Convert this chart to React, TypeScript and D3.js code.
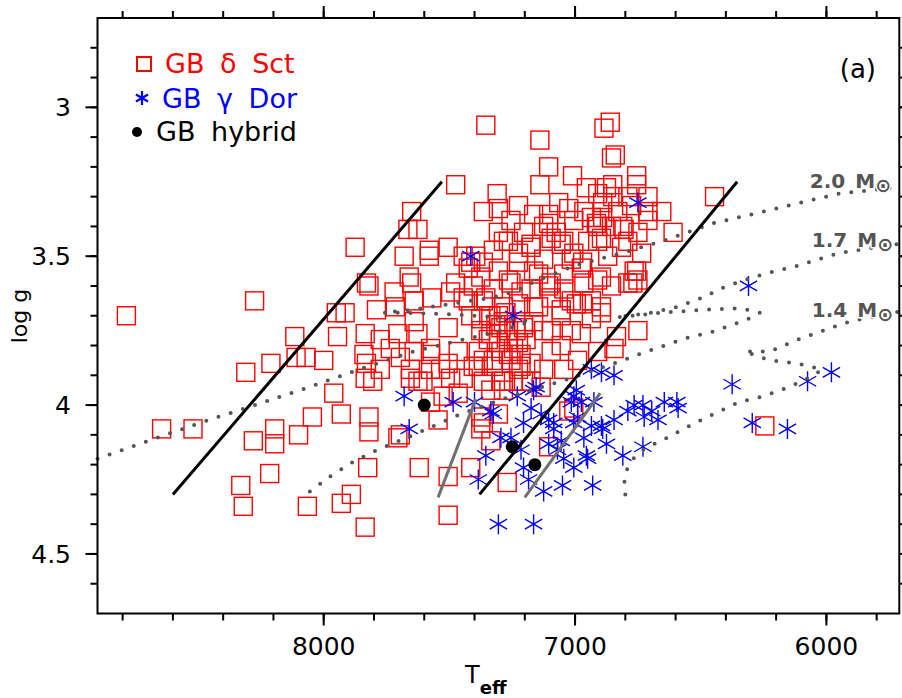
import React from 'react';
import * as d3 from 'd3';

const W = 902;
const H = 698;
const teffDomain: [number, number] = [8900, 5710];
const loggDomain: [number, number] = [2.7, 4.7];
const xMajorTicks = [8000, 7000, 6000];
const xTickLabels = ['8000', '7000', '6000'];
const yMajorTicks = [3, 3.5, 4, 4.5];
const yTickLabels = ['3', '3.5', '4', '4.5'];
const xMinorTicks = d3.range(5800, 8801, 200);
const yMinorTicks = d3.range(28, 47).map((v) => v / 10);

// GB delta Sct stars [Teff, log g]
const gbDeltaSct: [number, number][] = [
  [8785, 3.70], [8645, 4.08], [8520, 4.08], [8275, 3.65], [8310, 3.89], [8210, 3.86], [8110, 3.84],
  [8070, 3.84], [8000, 3.85], [7960, 3.96], [7930, 4.03], [7820, 4.04], [7820, 4.09], [7830, 3.86],
  [7805, 3.92], [7705, 4.11], [7695, 4.10], [8045, 4.04], [8100, 4.10], [8195, 4.08], [8195, 4.13],
  [8280, 4.12], [8215, 4.23], [8330, 4.27], [8320, 4.34], [8065, 4.34], [7930, 4.33], [7890, 4.30],
  [7835, 4.41], [7825, 4.21], [7620, 4.21], [7505, 4.37], [7505, 4.24], [6245, 4.07], [7270, 4.26],
  [7105, 4.14], [7875, 3.47], [7650, 3.35], [7665, 3.41], [7625, 3.41], [7680, 3.50], [7580, 3.48],
  [7580, 3.50], [7505, 3.47], [7475, 3.26], [7660, 3.57], [7650, 3.59], [7830, 3.59], [7820, 3.60],
  [7720, 3.62], [7790, 3.68], [7715, 3.67], [7640, 3.65], [7570, 3.64], [7950, 3.69], [7915, 3.69],
  [8115, 3.77], [7945, 3.77], [7835, 3.76], [7775, 3.78], [7705, 3.76], [7640, 3.72], [7625, 3.76],
  [7505, 3.74], [7575, 3.83], [7465, 3.82], [7840, 3.83], [7775, 3.88], [7835, 3.91], [7655, 3.88],
  [7625, 3.92], [7575, 3.88], [7505, 3.86], [7445, 3.91], [7405, 3.87], [7415, 3.52], [7405, 3.60],
  [7495, 3.62], [7425, 3.65], [7355, 3.64], [7375, 3.71], [7415, 3.70], [7375, 3.75], [7345, 3.78],
  [7385, 3.82], [7365, 3.85], [7325, 3.87], [7365, 3.92], [7335, 3.95], [7285, 3.95], [7285, 3.92],
  [7205, 3.92], [7225, 3.88], [7255, 3.85], [7225, 3.79], [7265, 3.75], [7305, 3.70], [7335, 3.76],
  [7175, 3.86], [7125, 3.88], [7095, 3.82], [7125, 3.75], [7165, 3.72], [7055, 3.68], [7015, 3.65],
  [7045, 3.61], [7095, 3.59], [7145, 3.56], [7125, 3.51], [7015, 3.51], [7045, 3.45], [7095, 3.44],
  [7175, 3.47], [7225, 3.49], [7285, 3.45], [7325, 3.48], [7365, 3.52], [7305, 3.55], [7255, 3.59],
  [7175, 3.61], [7145, 3.67], [7225, 3.66], [7315, 3.73], [7285, 3.72], [7265, 3.78], [7235, 3.75],
  [7295, 3.82], [7215, 3.83], [7275, 3.69], [7195, 3.78], [7305, 3.79], [7245, 3.81], [7205, 3.73],
  [7335, 3.70], [7735, 3.81], [7695, 3.84], [7640, 3.82], [7575, 3.81], [7655, 3.91], [7605, 3.92],
  [7535, 3.88], [7495, 3.91], [7525, 3.97], [7575, 3.99], [7545, 4.05], [7385, 3.87], [7325, 3.85],
  [7265, 3.83], [7215, 3.87], [7295, 3.92], [7245, 3.92], [7175, 3.92], [7135, 3.94], [7045, 3.88],
  [6990, 3.85], [6910, 3.82], [6845, 3.81], [7365, 4.06], [7375, 4.08], [7305, 4.03], [7335, 4.12],
  [7025, 4.02], [7005, 4.01], [7415, 4.21], [7375, 4.04], [7465, 3.96], [7355, 3.06], [7140, 3.11],
  [7105, 3.20], [7010, 3.23], [6885, 3.07], [6860, 3.05], [6855, 3.17], [6840, 3.16], [6755, 3.23],
  [7140, 3.26], [7310, 3.29], [7365, 3.35], [7305, 3.34], [7255, 3.38], [7225, 3.33], [7165, 3.36],
  [7105, 3.36], [7105, 3.39], [7065, 3.32], [7025, 3.34], [7005, 3.38], [6965, 3.35], [6910, 3.29],
  [6850, 3.26], [6850, 3.30], [6790, 3.30], [6755, 3.26], [6710, 3.30], [6655, 3.35], [6710, 3.35],
  [6775, 3.33], [6830, 3.35], [6890, 3.32], [6890, 3.37], [6935, 3.37], [6910, 3.40], [6855, 3.40],
  [6805, 3.41], [6750, 3.42], [6710, 3.38], [6610, 3.42], [6445, 3.30], [7305, 3.42], [7265, 3.45],
  [7205, 3.42], [7175, 3.46], [7125, 3.40], [7075, 3.42], [7055, 3.46], [7005, 3.49], [6970, 3.52],
  [6910, 3.45], [6870, 3.50], [6815, 3.47], [6790, 3.45], [6735, 3.49], [6755, 3.55], [6750, 3.58],
  [6790, 3.59], [6855, 3.60], [6910, 3.58], [6975, 3.54], [6965, 3.59], [7045, 3.56], [7105, 3.60],
  [7165, 3.55], [7225, 3.52], [7265, 3.58], [7325, 3.61], [7375, 3.57], [7425, 3.54], [7475, 3.59],
  [7445, 3.64], [7365, 3.65], [7285, 3.67], [7215, 3.62], [7165, 3.67], [7095, 3.64], [7055, 3.70],
  [6995, 3.66], [6935, 3.65], [6895, 3.69], [6750, 3.75], [6835, 3.77], [6975, 3.76], [7295, 3.74],
  [7205, 3.74], [6955, 3.27], [6875, 3.27], [6810, 3.40], [6915, 3.39], [6895, 3.44], [6950, 3.45],
  [6895, 3.57], [6765, 3.55], [6770, 3.59], [6970, 3.66], [6895, 3.67], [7445, 3.50], [7395, 3.50],
  [7015, 3.75], [7095, 3.75], [6935, 3.71], [7055, 3.80],
];

// GB gamma Dor stars [Teff, log g]
const gbGammaDor: [number, number][] = [
  [7415, 3.50], [7245, 3.70], [6750, 3.32], [6310, 3.60], [6375, 3.93], [6075, 3.92], [5980, 3.89],
  [6295, 4.06], [6155, 4.08], [6730, 4.14], [6810, 4.17], [6845, 4.05], [6790, 4.02], [6730, 4.00],
  [6725, 4.04], [6670, 4.05], [6645, 3.99], [6595, 3.99], [6590, 4.01], [6695, 4.02], [6845, 3.90],
  [6935, 3.88], [7155, 3.94], [7485, 3.99], [7680, 3.97], [7660, 4.08], [7355, 4.17], [7385, 4.25],
  [7185, 4.25], [7125, 4.29], [7050, 4.27], [6930, 4.27], [7005, 4.21], [7045, 4.18], [7070, 4.15],
  [6950, 4.18], [6965, 4.11], [6935, 4.07], [6990, 4.04], [7015, 3.99], [7085, 4.08], [7105, 4.13],
  [7205, 4.21], [7215, 4.15], [7175, 4.01], [7135, 4.03], [7305, 4.40], [7165, 4.40], [7400, 3.99],
  [7335, 4.02], [7295, 4.11], [7165, 3.95], [7055, 4.12], [7085, 4.06], [7005, 4.06], [6975, 3.99],
  [6925, 3.99], [7005, 3.97], [6895, 4.07], [6765, 4.00], [6955, 4.17], [6890, 4.08], [6875, 4.13],
  [7105, 4.05], [7205, 4.06], [6995, 3.95], [6895, 3.89], [7325, 4.03], [7255, 4.11], [7230, 3.97],
];

// GB hybrids [Teff, log g]
const gbHybrid: [number, number][] = [[7600, 4.0], [7250, 4.14], [7160, 4.2]];

// instability strip edges (solid black) and gamma Dor edges (grey)
const blackEdges: [number, number][][] = [
  [[8600, 4.30], [7530, 3.25]],
  [[7380, 4.30], [6355, 3.25]],
];
const greyEdges: [number, number][][] = [
  [[7545, 4.31], [7395, 3.98]],
  [[7200, 4.31], [6900, 3.96]],
];

// evolutionary tracks [Teff, log g]
const track20: [number, number][] = [
  [8900, 4.18], [8493, 4.06], [8093, 3.95], [7842, 3.875], [7642, 3.82], [7443, 3.78], [7295, 3.75],
  [7175, 3.72], [7295, 3.705], [7495, 3.695], [7695, 3.69], [7762, 3.69], [7646, 3.68], [7495, 3.66],
  [7335, 3.64], [7243, 3.62], [7147, 3.58], [6996, 3.53], [6816, 3.49], [6656, 3.45], [6453, 3.39],
  [6249, 3.35], [6053, 3.31], [5950, 3.29], [5734, 3.27], [5710, 3.27],
];
const track17: [number, number][] = [
  [8055, 4.29], [7975, 4.24], [7882, 4.19], [7786, 4.15], [7642, 4.10], [7455, 4.03], [7255, 3.97],
  [7055, 3.92], [6896, 3.875], [6696, 3.815], [6557, 3.775], [6457, 3.755], [6357, 3.725], [6309, 3.71],
  [6265, 3.69], [6337, 3.675], [6497, 3.68], [6656, 3.69], [6836, 3.705], [6696, 3.69], [6593, 3.67],
  [6497, 3.64], [6397, 3.60], [6249, 3.56], [6105, 3.53], [5953, 3.49], [5734, 3.46], [5710, 3.46],
];
const track14: [number, number][] = [
  [6800, 4.30], [6804, 4.26], [6796, 4.22], [6768, 4.18], [6728, 4.15], [6684, 4.13], [6633, 4.11],
  [6545, 4.07], [6449, 4.03], [6349, 3.99], [6249, 3.97], [6149, 3.94], [6050, 3.90], [6018, 3.88],
  [6117, 3.86], [6225, 3.85], [6277, 3.835], [6325, 3.82], [6225, 3.82], [6129, 3.785], [6029, 3.755],
  [5930, 3.725], [5882, 3.715], [5726, 3.69], [5710, 3.685],
];
const trackLabels = [
  { mass: '2.0', teff: 6066, logg: 3.27 },
  { mass: '1.7', teff: 6058, logg: 3.47 },
  { mass: '1.4', teff: 6058, logg: 3.705 },
];

const FONT = "'DejaVu Sans', Verdana, sans-serif";

function asteriskPath(r: number): string {
  const c = r * Math.cos(Math.PI / 6);
  const s = r * Math.sin(Math.PI / 6);
  return `M0,${-r}L0,${r}M${-c},${-s}L${c},${s}M${-c},${s}L${c},${-s}`;
}

export default function App() {
  const x = d3.scaleLinear().domain(teffDomain).range([97.5, 899.3]);
  const y = d3.scaleLinear().domain(loggDomain).range([18, 613.5]);
  const [x0, x1] = x.range();
  const [y0, y1] = y.range();
  const line = d3
    .line<[number, number]>()
    .x((d) => x(d[0]))
    .y((d) => y(d[1]));

  const major = 12;
  const minor = 7;
  const sq = 18;
  const star = asteriskPath(10);

  return (
    <svg
      width={W}
      height={H}
      style={{ position: 'absolute', left: 0, top: 0, background: '#fff' }}
      fontFamily={FONT}
    >
      <rect x={0} y={0} width={W} height={H} fill="#fff" />

      {/* data: delta Sct */}
      <g fill="none" stroke="#ff0000" strokeWidth={1.4}>
        {gbDeltaSct.map((d, i) => (
          <rect key={i} x={x(d[0]) - sq / 2} y={y(d[1]) - sq / 2} width={sq} height={sq} />
        ))}
      </g>
      {/* data: gamma Dor */}
      <g fill="none" stroke="#0000ff" strokeWidth={1.4}>
        {gbGammaDor.map((d, i) => (
          <path key={i} d={star} transform={`translate(${x(d[0])},${y(d[1])})`} />
        ))}
      </g>

      {/* tracks */}
      <g fill="none" stroke="#555" strokeWidth={4} strokeLinecap="round" strokeDasharray="0 12.8">
        {[track20, track17, track14].map((t, i) => (
          <path key={i} d={line(t) || ''} />
        ))}
      </g>

      {/* strip edges */}
      <g fill="none" stroke="#707070" strokeWidth={3}>
        {greyEdges.map((t, i) => (
          <path key={i} d={line(t) || ''} />
        ))}
      </g>
      <g fill="none" stroke="#000" strokeWidth={3}>
        {blackEdges.map((t, i) => (
          <path key={i} d={line(t) || ''} />
        ))}
      </g>

      {/* hybrids */}
      <g fill="#000">
        {gbHybrid.map((d, i) => (
          <circle key={i} cx={x(d[0])} cy={y(d[1])} r={6.5} />
        ))}
      </g>

      {/* track labels */}
      <g fill="#555" fontSize={20} stroke="#fff" strokeWidth={3} style={{ paintOrder: 'stroke' }}>
        {trackLabels.map((l, i) => (
          <text key={i} x={x(l.teff)} y={y(l.logg)} wordSpacing={3} fontWeight="bold">
            {l.mass} M
            <tspan fontSize={19} dy={4} dx={0}>⊙</tspan>
          </text>
        ))}
      </g>

      {/* frame */}
      <rect x={x0} y={y1 < y0 ? y1 : y0} width={x1 - x0} height={Math.abs(y1 - y0)} fill="none" stroke="#000" strokeWidth={2} />

      {/* ticks */}
      <g stroke="#000" strokeWidth={2}>
        {xMinorTicks.map((t) => (
          <g key={'xm' + t}>
            <line x1={x(t)} x2={x(t)} y1={y1} y2={y1 + minor} />
            <line x1={x(t)} x2={x(t)} y1={y0} y2={y0 - minor} />
          </g>
        ))}
        {xMajorTicks.map((t) => (
          <g key={'xM' + t}>
            <line x1={x(t)} x2={x(t)} y1={y1} y2={y1 + major} />
            <line x1={x(t)} x2={x(t)} y1={y0} y2={y0 - major} />
          </g>
        ))}
        {yMinorTicks.map((t) => (
          <g key={'ym' + t}>
            <line x1={x0} x2={x0 - minor} y1={y(t)} y2={y(t)} />
            <line x1={x1} x2={x1 + minor} y1={y(t)} y2={y(t)} />
          </g>
        ))}
        {yMajorTicks.map((t) => (
          <g key={'yM' + t}>
            <line x1={x0} x2={x0 - major} y1={y(t)} y2={y(t)} />
            <line x1={x1} x2={x1 + major} y1={y(t)} y2={y(t)} />
          </g>
        ))}
      </g>
      <g fontSize={25} fill="#000">
        {xMajorTicks.map((t, i) => (
          <text key={'xl' + t} x={x(t)} y={655} textAnchor="middle">
            {xTickLabels[i]}
          </text>
        ))}
        {yMajorTicks.map((t, i) => (
          <text key={'yl' + t} x={71} y={y(t) + 9} textAnchor="end">
            {yTickLabels[i]}
          </text>
        ))}
      </g>

      {/* axis titles */}
      <text x={465} y={683} fontSize={24} fill="#000">
        T<tspan fontSize={18} fontWeight="bold" dy={11}>eff</tspan>
      </text>
      <text transform="translate(27,316) rotate(-90)" textAnchor="middle" fontSize={22} fill="#000">
        log g
      </text>

      {/* panel label */}
      <text x={876} y={78} textAnchor="end" fontSize={26} fill="#000">
        (a)
      </text>

      {/* legend */}
      <g fontSize={27}>
        <rect x={137} y={57} width={14} height={14} fill="none" stroke="#ff0000" strokeWidth={2} />
        <text x={165} y={73} fill="#ff0000" wordSpacing={7}>
          GB δ Sct
        </text>
        <path d={asteriskPath(7)} transform="translate(142,98)" fill="none" stroke="#0000ff" strokeWidth={2.2} />
        <text x={162} y={107.5} fill="#0000ff" wordSpacing={7}>
          GB γ Dor
        </text>
        <circle cx={137} cy={132} r={5} fill="#000" />
        <text x={156} y={141} fill="#000" wordSpacing={7}>
          GB hybrid
        </text>
      </g>
    </svg>
  );
}
